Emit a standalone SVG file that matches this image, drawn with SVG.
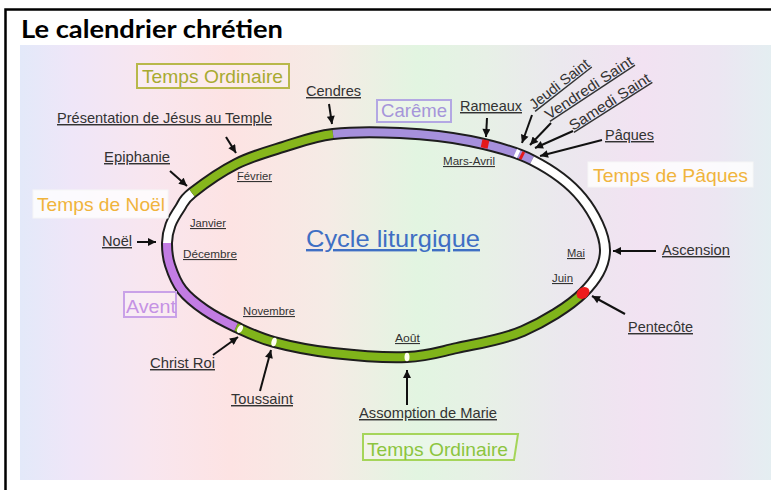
<svg xmlns="http://www.w3.org/2000/svg" width="771" height="490" viewBox="0 0 771 490">
<defs>
<linearGradient id="bg" x1="20" y1="0" x2="771" y2="0" gradientUnits="userSpaceOnUse">
<stop offset="0" stop-color="#e3e9f9"/>
<stop offset="0.07" stop-color="#efe6f8"/>
<stop offset="0.17" stop-color="#f8e6ef"/>
<stop offset="0.28" stop-color="#fde3e3"/>
<stop offset="0.41" stop-color="#f5ebe5"/>
<stop offset="0.53" stop-color="#e2f5e1"/>
<stop offset="0.62" stop-color="#e7f0e6"/>
<stop offset="0.72" stop-color="#ebe8ee"/>
<stop offset="0.83" stop-color="#f2e2f2"/>
<stop offset="0.93" stop-color="#ece6f2"/>
<stop offset="1" stop-color="#e4eef1"/>
</linearGradient>
<marker id="ah" viewBox="0 0 10 10" refX="10" refY="5" markerWidth="9" markerHeight="8" markerUnits="userSpaceOnUse" orient="auto">
<path d="M0,0 L10,5 L0,10 z" fill="#111"/>
</marker>
</defs>
<style>
.lbl{font-family:"Liberation Sans",Arial,sans-serif;font-size:14.5px;fill:#333;text-decoration:underline}
.mon{font-family:"Liberation Sans",Arial,sans-serif;font-size:11px;fill:#333;text-decoration:underline}
.box{font-family:"Liberation Sans",Arial,sans-serif;font-size:19px}
.arr{stroke:#111;stroke-width:2;fill:none;marker-end:url(#ah)}
.ring{fill:none;stroke-width:8}
</style>
<rect x="20" y="45" width="751" height="435" fill="url(#bg)"/>
<rect x="5.5" y="9.5" width="800" height="500" fill="none" stroke="#000" stroke-width="2.5"/>
<text x="21" y="38" font-family="Lato,'Open Sans',sans-serif" font-weight="bold" font-size="24" fill="#000" textLength="262" lengthAdjust="spacingAndGlyphs">Le calendrier chrétien</text>

<g id="cycle">
<path fill="none" stroke="#1e1e1e" stroke-width="12" d="M167,243 C167.08,236.33 168.33,230.83 170.5,225 C172.67,219.17 176.42,213.33 180,208 C183.58,202.67 182.67,200.33 192,193 C201.33,185.67 220.83,171.67 236,164 C251.17,156.33 266.83,152 283,147 C299.17,142 313.5,136.33 333,134 C352.5,131.67 377.17,131.83 400,133 C422.83,134.17 448,136.5 470,141 C492,145.5 513.33,150.5 532,160 C550.67,169.5 569.83,183 582,198 C594.17,213 604.83,234.17 605,250 C605.17,265.83 596.67,279.5 583,293 C569.33,306.5 544,321.83 523,331 C502,340.17 476.33,343.67 457,348 C437.67,352.33 427.67,356.17 407,357 C386.33,357.83 355.17,355.5 333,353 C310.83,350.5 290.17,346.33 274,342 C257.83,337.67 247.5,332.33 236,327 C224.5,321.67 214,316.17 205,310 C196,303.83 187.83,297.5 182,290 C176.17,282.5 172.5,272.83 170,265 C167.5,257.17 166.92,249.67 167,243 Z"/>
<path class="ring" stroke="#ffffff" d="M167,243 C167.08,236.33 168.33,230.83 170.5,225 C172.67,219.17 176.42,213.33 180,208 C183.58,202.67 182.67,200.33 192,193"/>
<path class="ring" stroke="#86b61c" d="M192,193 C201.33,185.67 220.83,171.67 236,164 C251.17,156.33 266.83,152 283,147 C299.17,142 313.5,136.33 333,134"/>
<path class="ring" stroke="#a690dc" d="M333,134 C352.5,131.67 377.17,131.83 400,133 C422.83,134.17 448,136.5 470,141 C492,145.5 513.33,150.5 532,160"/>
<path class="ring" stroke="#ffffff" d="M532,160 C550.67,169.5 569.83,183 582,198 C594.17,213 604.83,234.17 605,250 C605.17,265.83 596.67,279.5 583,293"/>
<path class="ring" stroke="#80b41a" d="M583,293 C569.33,306.5 544,321.83 523,331 C502,340.17 476.33,343.67 457,348 C437.67,352.33 427.67,356.17 407,357 C386.33,357.83 355.17,355.5 333,353 C310.83,350.5 290.17,346.33 274,342 C257.83,337.67 247.5,332.33 236,327"/>
<path class="ring" stroke="#c27ce3" d="M236,327 C224.5,321.67 214,316.17 205,310 C196,303.83 187.83,297.5 182,290 C176.17,282.5 172.5,272.83 170,265 C167.5,257.17 166.92,249.67 167,243"/>
<rect x="-3.5" y="-4" width="7" height="8" fill="#e3191c" transform="translate(485,144) rotate(12)"/>
<rect x="-1.8" y="-4" width="3.6" height="8" fill="#ffffff" transform="translate(517,153.5) rotate(25)"/>
<rect x="-1.5" y="-4" width="3" height="8" fill="#e3191c" transform="translate(522,155.5) rotate(27)"/>
<ellipse cx="0" cy="0" rx="7" ry="5.5" fill="#ee1c1c" transform="translate(583,293) rotate(-38)"/>
<ellipse cx="0" cy="0" rx="2.5" ry="4.3" fill="#fffff2" transform="translate(240,329) rotate(28)"/>
<ellipse cx="0" cy="0" rx="2.5" ry="4.3" fill="#fffff2" transform="translate(274,342) rotate(15)"/>
<ellipse cx="0" cy="0" rx="2.5" ry="4.3" fill="#fffff2" transform="translate(407,357)"/>
</g>

<g id="title-cycle"><text x="306" y="247" font-family="'Liberation Sans',Arial,sans-serif" font-size="24" fill="#3f6fc4" text-decoration="underline" textLength="174" lengthAdjust="spacingAndGlyphs">Cycle liturgique</text></g>

<g id="temps-ordinaire-1"><rect x="137" y="64" width="152" height="24" fill="#ffffff" fill-opacity="0.25" stroke="#b8b84a" stroke-width="2"/><text class="box" x="142" y="83" fill="#a8aa30" textLength="141" lengthAdjust="spacingAndGlyphs">Temps Ordinaire</text></g>
<g id="careme"><rect x="377" y="100" width="74" height="22" fill="#ffffff" fill-opacity="0.25" stroke="#b3a8e3" stroke-width="2"/><text class="box" x="381" y="117" style="font-size:18px" fill="#a696da" textLength="66" lengthAdjust="spacingAndGlyphs">Carême</text></g>
<g id="temps-noel"><rect x="33" y="190" width="135" height="28" fill="#ffffff" fill-opacity="0.8" stroke="#f6f6f6" stroke-width="1"/><text class="box" x="37" y="211" fill="#f0b43c" textLength="128" lengthAdjust="spacingAndGlyphs">Temps de Noël</text></g>
<g id="temps-paques"><rect x="588" y="162" width="165" height="25" fill="#ffffff" fill-opacity="0.8" stroke="#f6f6f6" stroke-width="1"/><text class="box" x="593" y="182" fill="#f0b43c" textLength="155" lengthAdjust="spacingAndGlyphs">Temps de Pâques</text></g>
<g id="avent"><rect x="124" y="292" width="52" height="25" fill="#ffffff" fill-opacity="0.25" stroke="#c9a2e8" stroke-width="2"/><text class="box" x="126" y="313" fill="#c592e4" textLength="50" lengthAdjust="spacingAndGlyphs">Avent</text></g>
<g id="temps-ordinaire-2"><polygon points="363,434 518,434 514,460 363,460" fill="#ffffff" fill-opacity="0.25" stroke="#a5d55a" stroke-width="2"/><text class="box" x="367" y="456" fill="#8cc53e" textLength="141" lengthAdjust="spacingAndGlyphs">Temps Ordinaire</text></g>

<g id="cendres"><text class="lbl" x="306" y="96" textLength="55" lengthAdjust="spacingAndGlyphs">Cendres</text></g>
<g id="presentation"><text class="lbl" x="57" y="123" textLength="215" lengthAdjust="spacingAndGlyphs">Présentation de Jésus au Temple</text></g>
<g id="epiphanie"><text class="lbl" x="104" y="162" textLength="66" lengthAdjust="spacingAndGlyphs">Epiphanie</text></g>
<g id="noel"><text class="lbl" x="102" y="246" textLength="30" lengthAdjust="spacingAndGlyphs">Noël</text></g>
<g id="rameaux"><text class="lbl" x="460" y="111" textLength="62" lengthAdjust="spacingAndGlyphs">Rameaux</text></g>
<g id="jeudi-saint"><text class="lbl" transform="translate(534,110) rotate(-38)" textLength="72" lengthAdjust="spacingAndGlyphs">Jeudi Saint</text></g>
<g id="vendredi-saint"><text class="lbl" transform="translate(549,120) rotate(-33.5)" textLength="102" lengthAdjust="spacingAndGlyphs">Vendredi Saint</text></g>
<g id="samedi-saint"><text class="lbl" transform="translate(573,131) rotate(-32.5)" textLength="93" lengthAdjust="spacingAndGlyphs">Samedi Saint</text></g>
<g id="paques"><text class="lbl" x="605" y="140" textLength="49" lengthAdjust="spacingAndGlyphs">Pâques</text></g>
<g id="ascension"><text class="lbl" x="662" y="255" textLength="68" lengthAdjust="spacingAndGlyphs">Ascension</text></g>
<g id="pentecote"><text class="lbl" x="628" y="332" textLength="65" lengthAdjust="spacingAndGlyphs">Pentecôte</text></g>
<g id="assomption"><text class="lbl" x="359" y="418" textLength="138" lengthAdjust="spacingAndGlyphs">Assomption de Marie</text></g>
<g id="toussaint"><text class="lbl" x="231" y="404" textLength="62" lengthAdjust="spacingAndGlyphs">Toussaint</text></g>
<g id="christ-roi"><text class="lbl" x="150" y="368" textLength="65" lengthAdjust="spacingAndGlyphs">Christ Roi</text></g>

<g id="mois">
<text class="mon" x="190" y="227" textLength="36" lengthAdjust="spacingAndGlyphs">Janvier</text>
<text class="mon" x="237" y="180" textLength="35" lengthAdjust="spacingAndGlyphs">Février</text>
<text class="mon" x="183" y="258" textLength="54" lengthAdjust="spacingAndGlyphs">Décembre</text>
<text class="mon" x="243" y="315" textLength="52" lengthAdjust="spacingAndGlyphs">Novembre</text>
<text class="mon" x="395" y="342" textLength="25" lengthAdjust="spacingAndGlyphs">Août</text>
<text class="mon" x="552" y="282" textLength="21" lengthAdjust="spacingAndGlyphs">Juin</text>
<text class="mon" x="567" y="257" textLength="18" lengthAdjust="spacingAndGlyphs">Mai</text>
<text class="mon" x="443" y="165" textLength="52" lengthAdjust="spacingAndGlyphs">Mars-Avril</text>
</g>

<g id="connectors">
<line class="arr" x1="329" y1="104" x2="332" y2="124"/>
<line class="arr" x1="226" y1="137" x2="236" y2="153"/>
<line class="arr" x1="170" y1="171" x2="187" y2="186"/>
<line class="arr" x1="137" y1="242" x2="156" y2="242"/>
<line class="arr" x1="487" y1="118" x2="486" y2="137"/>
<line class="arr" x1="532" y1="115" x2="522" y2="143"/>
<line class="arr" x1="551" y1="123" x2="530" y2="145"/>
<line class="arr" x1="573" y1="131" x2="535" y2="148"/>
<line class="arr" x1="602" y1="140" x2="540" y2="156"/>
<line class="arr" x1="656" y1="251" x2="613" y2="251"/>
<line class="arr" x1="625" y1="314" x2="592" y2="296"/>
<line class="arr" x1="407" y1="405" x2="407" y2="370"/>
<line class="arr" x1="260" y1="391" x2="271" y2="350"/>
<line class="arr" x1="213" y1="355" x2="238" y2="337"/>
</g>
</svg>
